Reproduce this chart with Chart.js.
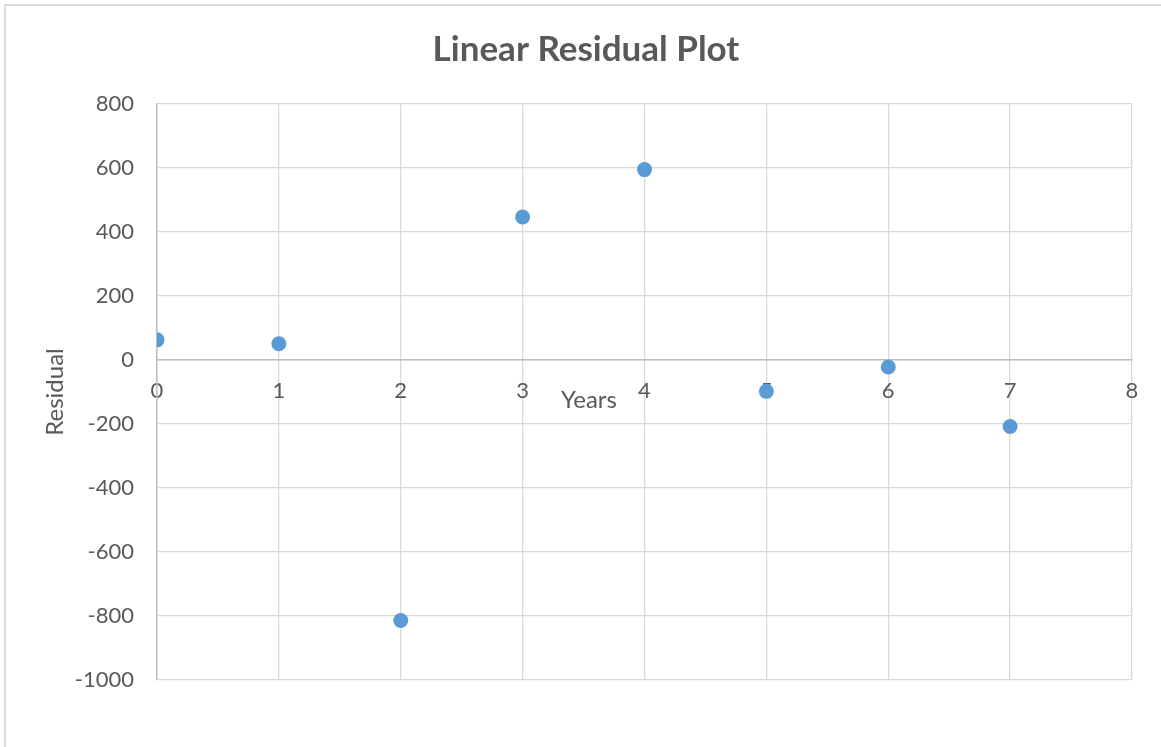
<!DOCTYPE html>
<html>
<head>
<meta charset="utf-8">
<script src="https://cdn.jsdelivr.net/npm/chart.js@4/dist/chart.umd.min.js"></script>
<style>
  html, body { margin: 0; padding: 0; background: #fff; overflow: hidden; }
  #frame { position: absolute; left: 4px; top: 4px; width: 1200px; height: 800px; border: 2px solid #d9d9d9; box-sizing: border-box; }
  #wrap { position: absolute; left: 0; top: 0; width: 1161px; height: 747px; }
</style>
</head>
<body>
<div id="frame"></div>
<div id="wrap"><canvas id="c" width="1161" height="747"></canvas></div>
<script>
const chartTitle = "Linear Residual Plot";
const xAxisTitle = "Years";
const yAxisTitle = "Residual";
const years = [0, 1, 2, 3, 4, 5, 6, 7];
const residuals = [63, 51, -814, 447, 595, -98, -22, -208];
const xTickMin = 0, xTickMax = 8, xTickStep = 1;
const yTickMin = -1000, yTickMax = 800, yTickStep = 200;

const points = years.map((x, i) => ({ x: x, y: residuals[i] }));
const textColor = '#595959';
const gridColor = '#d9d9d9';
const axisColor = '#bfbfbf';

const xTitlePlugin = {
  id: 'xTitlePlugin',
  afterDraw(chart) {
    const ctx = chart.ctx;
    const ys = chart.scales.y;
    const area = chart.chartArea;
    ctx.save();
    ctx.fillStyle = textColor;
    ctx.font = '24px Lato';
    ctx.textAlign = 'center';
    ctx.textBaseline = 'middle';
    ctx.fillText(xAxisTitle, area.left + (area.right - area.left) * 0.443, ys.getPixelForValue(0) + 40);
    ctx.restore();
  }
};

new Chart(document.getElementById('c'), {
  type: 'scatter',
  data: {
    datasets: [{
      data: points,
      backgroundColor: '#5b9bd5',
      borderColor: '#5b9bd5',
      pointRadius: 7.5,
      pointHoverRadius: 7.5,
      borderWidth: 0
    }]
  },
  options: {
    responsive: false,
    animation: false,
    devicePixelRatio: 1,
    layout: { padding: { left: 40, right: 29, top: 0, bottom: 67 } },
    plugins: {
      legend: { display: false },
      tooltip: { enabled: false },
      title: {
        display: true,
        text: chartTitle,
        color: textColor,
        font: { family: 'Lato', size: 35, weight: 'bold' },
        padding: { top: 29, bottom: 33 }
      }
    },
    scales: {
      x: {
        type: 'linear',
        position: { y: 0 },
        min: xTickMin, max: xTickMax,
        ticks: { stepSize: xTickStep, color: textColor, font: { family: 'Lato', size: 22 }, padding: 18,
                 callback: (v) => String(v) },
        grid: { color: gridColor, lineWidth: 1.3, drawTicks: false },
        border: { color: axisColor, width: 1.5 }
      },
      y: {
        type: 'linear',
        min: yTickMin, max: yTickMax,
        afterFit(scale) { scale.width = 117; },
        ticks: { stepSize: yTickStep, color: textColor, font: { family: 'Lato', size: 22 }, padding: 23,
                 callback: (v) => String(v) },
        grid: { color: gridColor, lineWidth: 1.3, drawTicks: false },
        border: { color: axisColor, width: 1.5 },
        title: {
          display: true,
          text: yAxisTitle,
          color: textColor,
          font: { family: 'Lato', size: 24 },
          padding: { top: 1, bottom: 0 }
        }
      }
    }
  },
  plugins: [xTitlePlugin]
});
</script>
</body>
</html>
